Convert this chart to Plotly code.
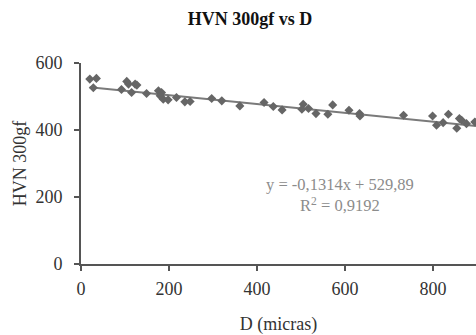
import plotly.graph_objects as go

# Data
d_micras = [20, 35, 28, 92, 104, 108, 115, 123, 127, 149, 176, 183, 180, 187, 198,
            217, 236, 248, 297, 320, 361, 416, 437, 457, 505, 502, 517, 534, 561,
            572, 609, 633, 634, 733, 799, 808, 823, 835, 854, 860, 865, 876, 895]
hvn = [552, 554, 526, 521, 545, 537, 512, 537, 534, 509, 517, 512, 502, 492, 490,
       497, 484, 485, 494, 487, 472, 482, 470, 460, 477, 462, 464, 449, 447,
       475, 459, 449, 442, 444, 442, 414, 422, 447, 405, 434, 429, 419, 424]
slope = -0.1314
intercept = 529.89
r2 = 0.9192
trend_x = [20, 1000]
trend_y = [slope * v + intercept for v in trend_x]
x_ticks = [0, 200, 400, 600, 800]
y_ticks = [0, 200, 400, 600]

FONT = "Liberation Serif, Times New Roman, serif"

fig = go.Figure()
fig.add_trace(go.Scatter(x=trend_x, y=trend_y, mode="lines",
                         line=dict(color="#7a7a7a", width=2), hoverinfo="skip"))
fig.add_trace(go.Scatter(x=d_micras, y=hvn, mode="markers",
                         marker=dict(symbol="diamond", size=7, color="#666666")))

fig.add_annotation(
    xref="paper", yref="paper", x=0.656, y=0.343,
    text="y = -0,1314x + 529,89<br>R<sup>2</sup> = 0,9192",
    showarrow=False, align="center",
    font=dict(family=FONT, size=16.5, color="#8c8c8c"),
)

fig.update_layout(
    width=476, height=335,
    margin=dict(l=81, r=0, t=63, b=71),
    paper_bgcolor="white", plot_bgcolor="white",
    showlegend=False,
    font=dict(family=FONT, size=18, color="#333333"),
    title=dict(text="<b>HVN 300gf vs D</b>", x=0.525, xanchor="center",
               y=0.943, yanchor="middle",
               font=dict(family=FONT, size=18, color="#111111")),
    xaxis=dict(range=[0, 897.7], tickvals=x_ticks, showgrid=False, zeroline=False,
               showline=True, linecolor="#555555", linewidth=2,
               ticks="outside", ticklen=5, tickwidth=2, tickcolor="#555555",
               ticklabelstandoff=2,
               tickfont=dict(family=FONT, size=18, color="#333333"),
               title=dict(text="D (micras)", standoff=21,
                          font=dict(family=FONT, size=18, color="#333333"))),
    yaxis=dict(range=[0, 600], tickvals=y_ticks, showgrid=False, zeroline=False,
               showline=True, linecolor="#555555", linewidth=2,
               ticks="outside", ticklen=5, tickwidth=2, tickcolor="#555555",
               ticklabelstandoff=8,
               tickfont=dict(family=FONT, size=18, color="#333333"),
               title=dict(text="HVN 300gf", standoff=4,
                          font=dict(family=FONT, size=18, color="#333333"))),
)

fig.write_html("out.html")
